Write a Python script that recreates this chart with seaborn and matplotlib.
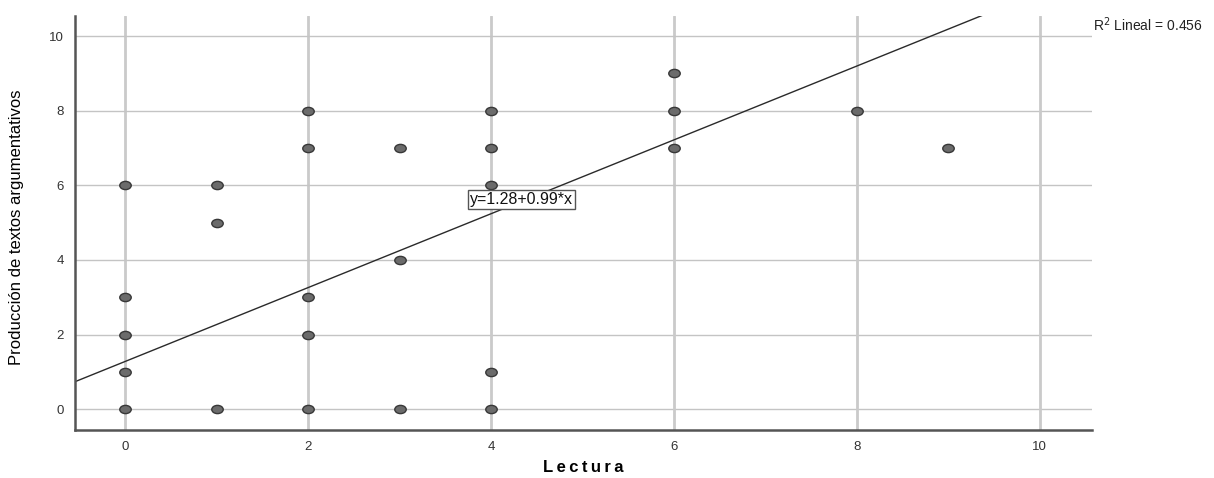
import matplotlib
matplotlib.use('Agg')
import matplotlib.pyplot as plt
from matplotlib.path import Path
import seaborn as sns
import pandas as pd

# puntos (Lectura, Produccion)
lectura = [0, 0, 0, 0, 0,
           1, 1, 1,
           2, 2, 2, 2, 2,
           3, 3, 3,
           4, 4, 4, 4, 4,
           6, 6, 6,
           8, 9]
produccion = [0, 1, 2, 3, 6,
              0, 5, 6,
              0, 2, 3, 7, 8,
              0, 4, 7,
              0, 1, 6, 7, 8,
              7, 8, 9,
              8, 7]
intercepto = 1.28
pendiente = 0.99
r2 = 0.456
ticks = [0, 2, 4, 6, 8, 10]

df = pd.DataFrame({'Lectura': lectura, 'Produccion': produccion})

sns.set_style('white')
plt.rcParams['font.family'] = ['Liberation Sans', 'DejaVu Sans']

# marcador eliptico como en SPSS
circ = Path.unit_circle()
elipse = Path(circ.vertices * [1.0, 0.72], circ.codes)

fig = plt.figure(figsize=(12.14, 4.78), dpi=100)
ax = fig.add_axes([0.0618, 0.1004, 0.8377, 0.8661])
ax.set_xlim(-0.55, 10.57)
ax.set_ylim(-0.56, 10.54)

for t in ticks:
    ax.axvline(t, color='#cacaca', lw=2.0, zorder=0)
    ax.axhline(t, color='#c4c4c4', lw=1.0, zorder=0)

sns.scatterplot(data=df, x='Lectura', y='Produccion', ax=ax, s=68,
                marker=elipse, color='#6b6b6b', edgecolor='#383838',
                linewidth=1.0, zorder=3)

# recta de ajuste lineal
xs = [ax.get_xlim()[0], ax.get_xlim()[1]]
ys = [intercepto + pendiente * v for v in xs]
ax.plot(xs, ys, color='#2a2a2a', lw=1.0, zorder=2)

ax.text(3.77, 5.63, 'y=%.2f+%.2f*x' % (intercepto, pendiente),
        fontsize=11.5, va='center', ha='left', color='#111111', zorder=5,
        bbox=dict(boxstyle='square,pad=0.12', fc='white', ec='#555555', lw=1))

fig.text(0.9005, 0.948, 'R$^2$ Lineal = %.3f' % r2, fontsize=10,
         ha='left', va='center', color='#222222')

ax.set_xticks(ticks)
ax.set_yticks(ticks)
ax.tick_params(length=0, labelsize=9.5, labelcolor='#333333', pad=8)
for s in ['top', 'right']:
    ax.spines[s].set_visible(False)
for s in ['left', 'bottom']:
    ax.spines[s].set_color('#555555')
    ax.spines[s].set_linewidth(1.8)

ax.set_xlabel('\u2009'.join('Lectura'), fontsize=12, fontweight='bold',
              labelpad=5, color='black')
ax.set_ylabel('Producción de textos argumentativos', fontsize=12,
              color='black')
ax.yaxis.set_label_coords(-0.050, 0.49)

fig.savefig('out.png', dpi=100)
